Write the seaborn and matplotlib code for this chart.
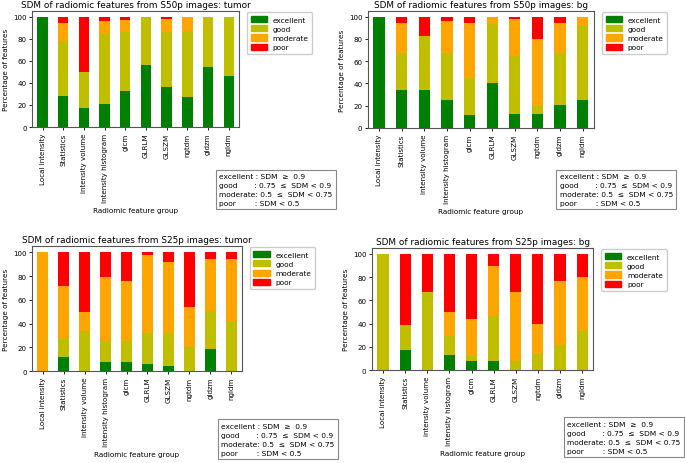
import numpy as np
import matplotlib
matplotlib.use("Agg")
import matplotlib.pyplot as plt
import seaborn as sns
from matplotlib.patches import Patch

# radiomic feature groups (x axis)
groups = ["Local intensity", "Statistics", "intensity volume", "Intensity histogram",
          "glcm", "GLRLM", "GLSZM", "ngtdm", "gldzm", "ngldm"]
levels = ["excellent", "good", "moderate", "poor"]
level_colors = ["green", "y", "orange", "red"]

# S50p images: tumor
s50_tumor_excellent = [100, 28, 17, 21, 33, 56, 36, 27, 54, 46]
s50_tumor_good = [0, 50, 33, 63, 53, 44, 50, 60, 45, 53]
s50_tumor_moderate = [0, 16, 0, 12, 10.5, 0, 12, 13, 1, 1]
s50_tumor_poor = [0, 6, 50, 4, 3.5, 0, 2, 0, 0, 0]

# S50p images: bg
s50_bg_excellent = [100, 34, 34, 25, 12, 40, 13, 13, 21, 25]
s50_bg_good = [0, 33, 49, 42, 33, 53, 52, 7, 46, 67]
s50_bg_moderate = [0, 27, 0, 29, 49, 7, 33, 60, 27, 8]
s50_bg_poor = [0, 6, 17, 4, 6, 0, 2, 20, 6, 0]

# S25p images: tumor
s25_tumor_excellent = [0, 12, 0, 8, 8, 6, 4, 0, 19, 0]
s25_tumor_good = [0, 16, 34, 17, 17, 26, 28, 20, 32, 42]
s25_tumor_moderate = [100, 44, 16, 54, 51, 66, 60, 34, 43, 52]
s25_tumor_poor = [0, 28, 50, 21, 24, 2, 8, 46, 6, 6]

# S25p images: bg
s25_bg_excellent = [0, 17, 0, 13, 8, 8, 0, 0, 0, 0]
s25_bg_good = [100, 22, 67, 16, 4, 39, 8, 14, 22, 34]
s25_bg_moderate = [0, 0, 0, 21, 32, 43, 59, 26, 55, 46]
s25_bg_poor = [0, 61, 33, 50, 56, 10, 33, 60, 23, 20]

criteria = ("excellent : SDM  \u2265  0.9\n"
            "good       : 0.75  \u2264  SDM < 0.9\n"
            "moderate: 0.5  \u2264  SDM < 0.75\n"
            "poor        : SDM < 0.5")


def stacked_panel(ax, parts, title):
    cum = np.cumsum(np.array(parts, dtype=float), axis=0)
    # draw tallest first so lower segments sit on top
    for i in range(len(levels) - 1, -1, -1):
        sns.barplot(x=groups, y=cum[i], color=level_colors[i], width=0.5,
                    saturation=1, linewidth=0, ax=ax)
    ax.set_ylim(0, 105)
    ax.set_xlim(-0.5, len(groups) - 0.5)
    ax.set_title(title, fontsize=6.4, pad=3)
    ax.set_ylabel("Percentage of features", fontsize=5.2, labelpad=3)
    ax.set_xlabel("Radiomic feature group", fontsize=5.2)
    ax.tick_params(axis="both", labelsize=5.1, length=2.5, width=0.6, pad=1.5)
    ax.tick_params(axis="x", rotation=90)
    for s in ax.spines.values():
        s.set_color("#555555")
        s.set_linewidth(0.8)
    handles = [Patch(color=c, label=l) for c, l in zip(level_colors, levels)]
    ax.legend(handles=handles, loc="upper left", bbox_to_anchor=(1.02, 1.02),
              fontsize=5.3, handlelength=2.2, handleheight=0.9,
              borderpad=0.5, labelspacing=0.35, framealpha=1, edgecolor="#cccccc")


fig = plt.figure(figsize=(6.85, 4.64), dpi=100)
ax1 = fig.add_axes([0.047, 0.724, 0.302, 0.250])
ax2 = fig.add_axes([0.537, 0.722, 0.330, 0.252])
ax3 = fig.add_axes([0.047, 0.198, 0.306, 0.269])
ax4 = fig.add_axes([0.543, 0.200, 0.323, 0.263])

stacked_panel(ax1, [s50_tumor_excellent, s50_tumor_good, s50_tumor_moderate, s50_tumor_poor],
              "SDM of radiomic features from S50p images: tumor")
stacked_panel(ax2, [s50_bg_excellent, s50_bg_good, s50_bg_moderate, s50_bg_poor],
              "SDM of radiomic features from S50p images: bg")
stacked_panel(ax3, [s25_tumor_excellent, s25_tumor_good, s25_tumor_moderate, s25_tumor_poor],
              "SDM of radiomic features from S25p images: tumor")
stacked_panel(ax4, [s25_bg_excellent, s25_bg_good, s25_bg_moderate, s25_bg_poor],
              "SDM of radiomic features from S25p images: bg")

# criteria boxes
for x, y in [(0.320, 0.554), (0.817, 0.554), (0.323, 0.016), (0.828, 0.020)]:
    fig.text(x, y, criteria, fontsize=5.4, linespacing=1.6, ha="left", va="bottom",
             bbox=dict(boxstyle="square,pad=0.45", fc="white", ec="#888888", lw=0.8))

fig.savefig("out.png", dpi=100)
